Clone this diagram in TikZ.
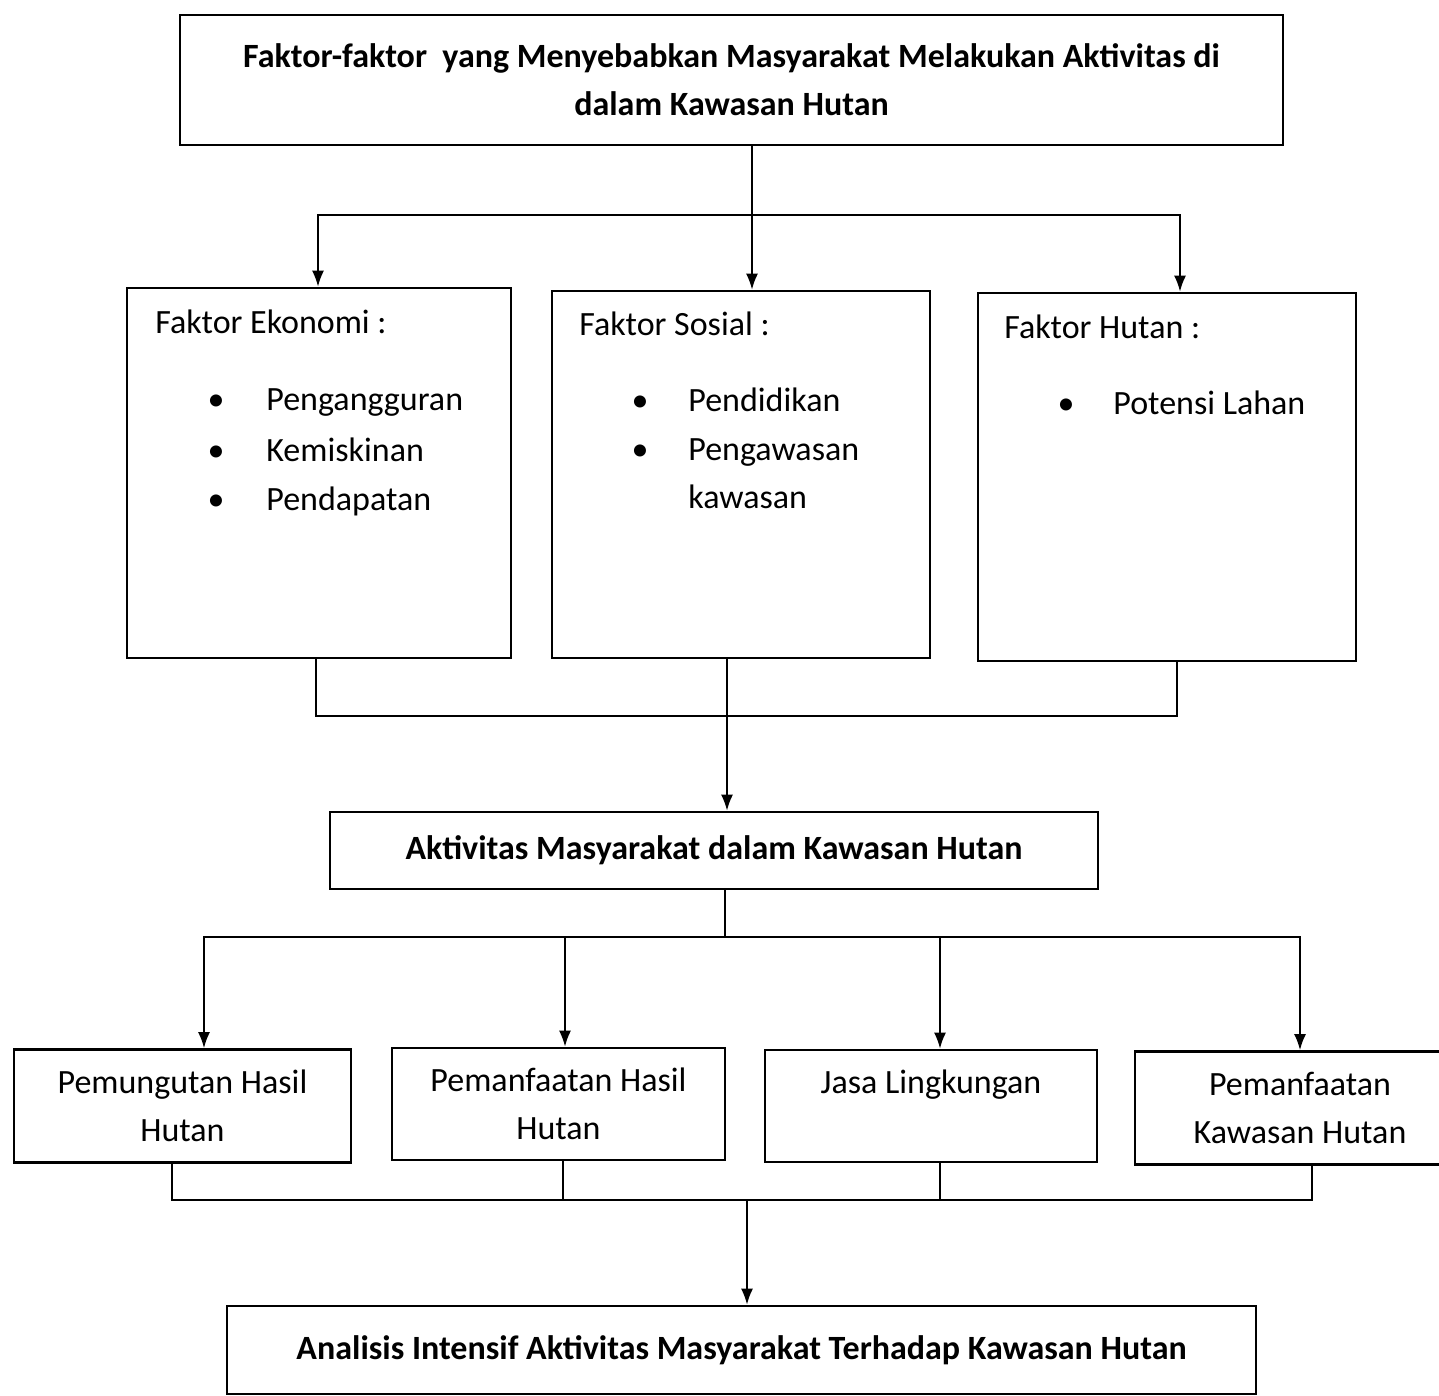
\documentclass[tikz,border=0pt]{standalone}
\usepackage{fontspec}
\setmainfont{Carlito}
\usetikzlibrary{arrows.meta}

\begin{document}
\begin{tikzpicture}[x=0.5pt, y=-0.5pt, font=\fontsize{17}{24}\selectfont,
  box/.style={draw, line width=1.3pt, rectangle, inner sep=0pt, align=center},
  txt/.style={anchor=base west, inner sep=0pt},
  dot/.style={anchor=base, inner sep=0pt},
  line/.style={line width=1pt},
  arr/.style={line width=1pt, -{Latex[length=8pt,width=6pt]}}]

\clip (0,0) rectangle (1439,1396);
\fill[white] (0,0) rectangle (1439,1396);

\node[box, font={\fontsize{17}{24}\selectfont\bfseries}, minimum width=551.5pt, minimum height=65pt] (top) at (731.5,80) {Faktor-faktor\ \ yang Menyebabkan Masyarakat Melakukan Aktivitas di\\dalam Kawasan Hutan};

\node[box, minimum width=192pt, minimum height=185pt] (eko) at (319,473) {};
\node[box, minimum width=189pt, minimum height=183.5pt] (sos) at (741,474.5) {};
\node[box, minimum width=189pt, minimum height=184pt] (hut) at (1167,477) {};

\node[txt] (ekohead) at (155,333) {Faktor Ekonomi :};
\node[dot] (ekob1) at (216,410) {\textbullet};
\node[dot] (ekob2) at (216,461) {\textbullet};
\node[dot] (ekob3) at (216,510) {\textbullet};
\node[txt] (eko1) at (266,410) {Pengangguran};
\node[txt] (eko2) at (266,461) {Kemiskinan};
\node[txt] (eko3) at (266,510) {Pendapatan};

\node[txt] (soshead) at (579,335) {Faktor Sosial :};
\node[dot] (sosb1) at (640,411) {\textbullet};
\node[dot] (sosb2) at (640,460) {\textbullet};
\node[txt] (sos1) at (688,411) {Pendidikan};
\node[txt] (sos2) at (688,460) {Pengawasan};
\node[txt] (sos3) at (688,508) {kawasan};

\node[txt] (huthead) at (1004,338) {Faktor Hutan :};
\node[dot] (hutb1) at (1066,414) {\textbullet};
\node[txt] (hut1) at (1113,414) {Potensi Lahan};

\node[box, font={\fontsize{17}{24}\selectfont\bfseries}, minimum width=384pt, minimum height=38.5pt] (akt) at (714,850.5) {Aktivitas Masyarakat dalam Kawasan Hutan};

\node[box, minimum width=168.5pt, minimum height=56.5pt] (h1) at (182.5,1106) {Pemungutan Hasil\\Hutan};
\node[box, minimum width=166.5pt, minimum height=56pt] (h2) at (558.5,1104) {Pemanfaatan Hasil\\Hutan};
\node[box, minimum width=166pt, minimum height=56pt] (h3) at (931,1106) {Jasa Lingkungan\\\mbox{}};
\node[box, minimum width=165pt, minimum height=56.5pt] (h4) at (1300,1108) {Pemanfaatan\\Kawasan Hutan};

\node[box, font={\fontsize{17}{24}\selectfont\bfseries}, minimum width=514.5pt, minimum height=44pt] (fin) at (741.5,1350) {Analisis Intensif Aktivitas Masyarakat Terhadap Kawasan Hutan};

% top box to the three factors
\coordinate (s1) at (752,215);
\draw[line] (752,0 |- top.south) -- (s1);
\draw[arr] (s1) -- (752,0 |- sos.north);
\draw[arr] (s1) -| (318,0 |- eko.north);
\draw[arr] (s1) -| (1180,0 |- hut.north);

% factors to activity
\draw[line] (316,0 |- eko.south) -- (316,716) -| (1177,0 |- hut.south);
\draw[arr] (727,0 |- sos.south) -- (727,0 |- akt.north);

% activity to the four kinds
\coordinate (s2) at (725,937);
\draw[line] (725,0 |- akt.south) -- (s2);
\draw[arr] (s2) -| (204,0 |- h1.north);
\draw[arr] (s2) -| (565,0 |- h2.north);
\draw[arr] (s2) -| (940,0 |- h3.north);
\draw[arr] (s2) -| (1300,0 |- h4.north);

% four kinds to analysis
\draw[line] (172,0 |- h1.south) -- (172,1200) -| (1312,0 |- h4.south);
\draw[line] (563,0 |- h2.south) -- (563,1200);
\draw[line] (940,0 |- h3.south) -- (940,1200);
\draw[arr] (747,1200) -- (747,0 |- fin.north);

\end{tikzpicture}
\end{document}
